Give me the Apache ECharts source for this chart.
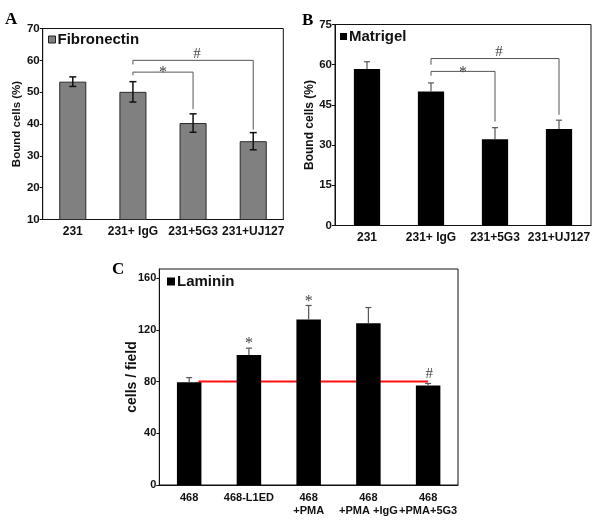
<!DOCTYPE html>
<html>
<head>
<meta charset="utf-8">
<script src="https://cdn.jsdelivr.net/npm/echarts@6/dist/echarts.min.js"></script>
<style>html,body{margin:0;padding:0;background:#fff;}#c{width:600px;height:526px;}</style>
</head>
<body>
<div id="c"></div>
<script>
// ---- data ----
const catsA = ['231', '231+ IgG', '231+5G3', '231+UJ127'];
const fibronectin = [53.3, 50.1, 40.3, 34.6];
const fibronectinErr = [1.5, 3.2, 2.9, 2.7];

const catsB = ['231', '231+ IgG', '231+5G3', '231+UJ127'];
const matrigel = [58.4, 50.0, 32.2, 36.0];
const matrigelErr = [2.7, 3.2, 4.3, 3.3];

const catsC = ['468', '468-L1ED', '468\n+PMA', '468\n+PMA +IgG', '468\n+PMA+5G3'];
const laminin = [79.5, 100.5, 128, 125, 77];
const lamininErr = [3.5, 5.3, 10.8, 12.2, 1.5];
const lamininRef = 80;
const lamininMarks = ['', '*', '*', '', '#'];

// significance brackets: [from, to, level, leftDrop, rightDrop, mark]
const bracketsA = [[1, 3, 60.0, 58.7, 38.2, '#'], [1, 2, 56.3, 55.3, 44.7, '*']];
const bracketsB = [[1, 3, 62.3, 60.0, 41.3, '#'], [1, 2, 57.5, 55.9, 38.8, '*']];

// axis ranges
const axisA = {min: 10, max: 70, interval: 10};
const axisB = {min: 0, max: 75, interval: 15};
const axisC = {min: 0, max: 167, interval: 40};

// ---- chart ----
const chart = echarts.init(document.getElementById('c'), null, {renderer: 'canvas'});
const SANS = 'Liberation Sans';
const SERIF = 'Liberation Serif';

function xAxis(i, cats, size) {
  return {
    type: 'category', gridIndex: i, data: cats,
    axisLine: {lineStyle: {color: '#111', width: 1}},
    axisTick: {show: false},
    axisLabel: {color: '#111', fontFamily: SANS, fontWeight: 'bold', fontSize: size, margin: 6, lineHeight: 13, interval: 0}
  };
}
function yAxis(i, ax, name, nameSize, gap, labelSize) {
  return {
    type: 'value', gridIndex: i, min: ax.min, max: ax.max, interval: ax.interval,
    name: name, nameLocation: 'middle', nameGap: gap, nameMoveOverlap: false,
    nameTextStyle: {color: '#111', fontFamily: SANS, fontWeight: 'bold', fontSize: nameSize},
    splitLine: {show: false},
    axisLine: {show: true, lineStyle: {color: '#111', width: 1}},
    axisTick: {show: true, length: 3, lineStyle: {color: '#111'}},
    axisLabel: {color: '#111', fontFamily: SANS, fontWeight: 'bold', fontSize: labelSize, margin: 3, showMaxLabel: ax.max % ax.interval === 0}
  };
}
function errSeries(idx, values, errs, both, color, lw, capW) {
  return {
    type: 'custom', xAxisIndex: idx, yAxisIndex: idx, z: 5,
    data: values.map((v, i) => [i, v, errs[i]]),
    renderItem: function (params, api) {
      const i = api.value(0), v = api.value(1), e = api.value(2);
      const top = api.coord([i, v + e]);
      const bot = both ? api.coord([i, v - e]) : api.coord([i, v]);
      const st = {stroke: color, lineWidth: lw};
      const ch = [
        {type: 'line', shape: {x1: top[0], y1: top[1], x2: bot[0], y2: bot[1]}, style: st},
        {type: 'line', shape: {x1: top[0] - capW / 2, y1: top[1], x2: top[0] + capW / 2, y2: top[1]}, style: st}
      ];
      if (both) ch.push({type: 'line', shape: {x1: bot[0] - capW / 2, y1: bot[1], x2: bot[0] + capW / 2, y2: bot[1]}, style: st});
      return {type: 'group', children: ch};
    }
  };
}
function bracketSeries(idx, brackets) {
  return {
    type: 'custom', xAxisIndex: idx, yAxisIndex: idx, z: 6,
    data: brackets.map(b => b.slice(0, 5)),
    renderItem: function (params, api) {
      const b = brackets[params.dataIndex];
      const L = api.coord([b[0], b[2]]), R = api.coord([b[1], b[2]]);
      const Ld = api.coord([b[0], b[3]]), Rd = api.coord([b[1], b[4]]);
      const isHash = b[5] === '#';
      return {type: 'group', children: [
        {type: 'polyline', shape: {points: [[Ld[0], Ld[1]], [L[0], L[1]], [R[0], R[1]], [Rd[0], Rd[1]]]}, style: {stroke: '#555', lineWidth: 1, fill: null}},
        {type: 'text', x: (L[0] + R[0]) / 2 + (isHash ? 4 : 0), y: L[1] + (isHash ? -6 : 1),
         style: {text: b[5], fill: '#444', font: (isHash ? 'normal 15px ' : 'normal 16px ') + SERIF, align: 'center', verticalAlign: 'middle'}}
      ]};
    }
  };
}
const legendText = {fontFamily: SANS, fontWeight: 'bold', fontSize: 15, color: '#111', padding: [0, 0, 0, -3]};

const option = {
  animation: false,
  backgroundColor: '#fff',
  title: [
    {text: 'A', left: 0, top: 6, textStyle: {fontFamily: SERIF, fontWeight: 'bold', fontSize: 17, color: '#000'}},
    {text: 'B', left: 297, top: 7, textStyle: {fontFamily: SERIF, fontWeight: 'bold', fontSize: 17, color: '#000'}},
    {text: 'C', left: 107, top: 256, textStyle: {fontFamily: SERIF, fontWeight: 'bold', fontSize: 17, color: '#000'}}
  ],
  legend: [
    {data: ['Fibronectin'], left: 48, top: 32, padding: 0, icon: 'rect', itemWidth: 7, itemHeight: 7, selectedMode: false,
     itemStyle: {color: '#808080', borderColor: '#222', borderWidth: 1}, textStyle: legendText},
    {data: ['Matrigel'], left: 340, top: 29, padding: 0, icon: 'rect', itemWidth: 7, itemHeight: 7, selectedMode: false,
     itemStyle: {color: '#000'}, textStyle: legendText},
    {data: ['Laminin'], left: 167, top: 274, padding: 0, icon: 'rect', itemWidth: 8, itemHeight: 8, selectedMode: false,
     itemStyle: {color: '#000'}, textStyle: legendText}
  ],
  grid: [
    {left: 42.7, right: 316.7, top: 28.5, bottom: 306.5, show: true, borderColor: '#111', borderWidth: 1, containLabel: false},
    {left: 335, right: 9, top: 24.5, bottom: 300.5, show: true, borderColor: '#111', borderWidth: 1, containLabel: false},
    {left: 159.3, right: 142, top: 269, bottom: 41, show: true, borderColor: '#111', borderWidth: 1, containLabel: false}
  ],
  xAxis: [xAxis(0, catsA, 12), xAxis(1, catsB, 12), xAxis(2, catsC, 11)],
  yAxis: [
    yAxis(0, axisA, 'Bound cells (%)', 11.5, 20, 11.5),
    yAxis(1, axisB, 'Bound cells (%)', 12, 19, 11.5),
    yAxis(2, axisC, 'cells / field', 14, 20, 11)
  ],
  series: [
    {name: 'Fibronectin', type: 'bar', xAxisIndex: 0, yAxisIndex: 0, data: fibronectin, barWidth: '45%',
     itemStyle: {color: '#808080', borderColor: '#2a2a2a', borderWidth: 1}},
    errSeries(0, fibronectin, fibronectinErr, true, '#111', 1.5, 7),
    bracketSeries(0, bracketsA),
    {name: 'Matrigel', type: 'bar', xAxisIndex: 1, yAxisIndex: 1, data: matrigel, barWidth: '41%',
     itemStyle: {color: '#000'}},
    errSeries(1, matrigel, matrigelErr, false, '#555', 1.2, 6),
    bracketSeries(1, bracketsB),
    {name: 'Laminin', type: 'bar', xAxisIndex: 2, yAxisIndex: 2, data: laminin, barWidth: '41%',
     itemStyle: {color: '#000'}, z: 3},
    {type: 'custom', xAxisIndex: 2, yAxisIndex: 2, z: 2,
     data: [[0, lamininRef]],
     renderItem: function (params, api) {
       const a = api.coord([0, lamininRef]);
       const b = api.coord([catsC.length - 1, lamininRef]);
       const bw = api.size([1, 0])[0] * 0.41;
       return {type: 'line', shape: {x1: a[0] + bw / 2 - 3, y1: a[1], x2: b[0], y2: b[1]}, style: {stroke: '#ff1010', lineWidth: 2}};
     }},
    errSeries(2, laminin, lamininErr, false, '#555', 1.2, 6),
    {type: 'custom', xAxisIndex: 2, yAxisIndex: 2, z: 6,
     data: laminin.map((v, i) => [i, v + lamininErr[i]]),
     renderItem: function (params, api) {
       const i = params.dataIndex;
       const p = api.coord([api.value(0), api.value(1)]);
       const m = lamininMarks[i];
       if (!m) return null;
       const isHash = m === '#';
       return {type: 'text', x: p[0] + (isHash ? 1 : 0), y: p[1] + (isHash ? -9 : -4),
               style: {text: m, fill: '#444', font: (isHash ? 'normal 15px ' : 'normal 16px ') + SERIF, align: 'center', verticalAlign: 'middle'}};
     }}
  ]
};
chart.setOption(option);
</script>
</body>
</html>
